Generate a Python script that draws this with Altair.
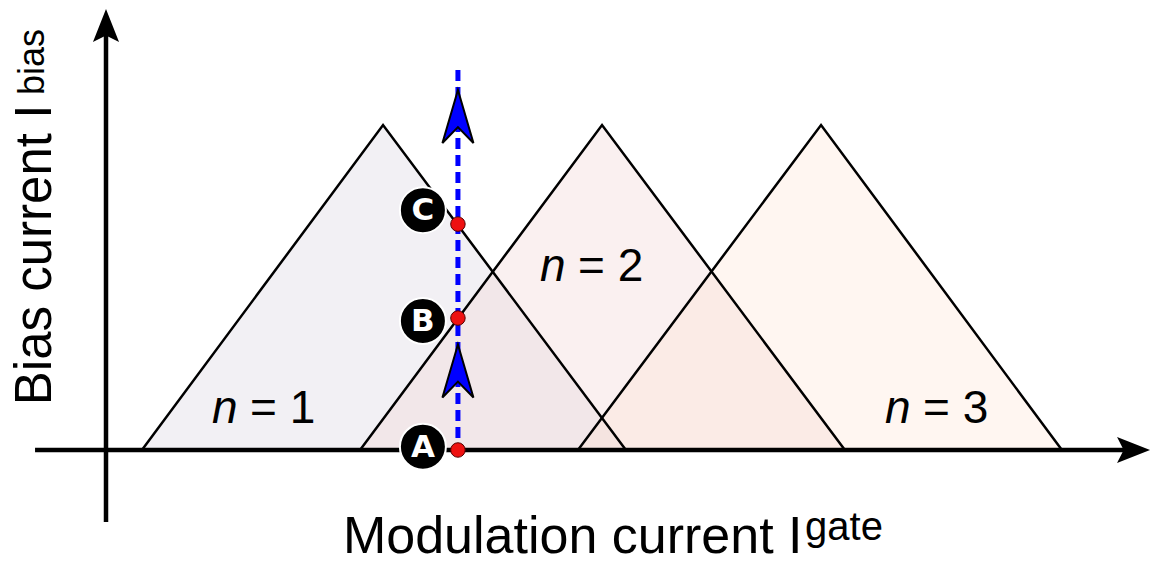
import altair as alt
import pandas as pd

# ---- data ----
# stability regions n = 1, 2, 3 : gate current at left foot, peak, right foot
tri_n = [1, 2, 3]
tri_left = [0.164, 1.160, 2.155]
tri_peak = [1.265, 2.265, 3.265]
tri_right = [2.374, 3.374, 4.365]
tri_height = [1.0, 1.0, 1.0]
tri_fill = ["#f2f0f4", "rgb(242,216,216)", "rgb(255,220,200)"]
tri_opacity = [1.0, 0.385, 0.25]

# bias sweep at a fixed gate current
sweep_gate = 1.607
sweep_top = 1.169
point_names = ["A", "B", "C"]
point_bias = [0.0, 0.406, 0.695]
label_gate = 1.447
label_bias = [0.01, 0.397, 0.738]
arrow_bias = [1.026, 0.243]

# region labels
region_eq = ["= 1", "= 2", "= 3"]
region_x = [0.484, 1.982, 3.557]
region_y = [0.083, 0.52, 0.083]

# axes
x_axis_from, x_axis_to = -0.324, 4.692
y_axis_from, y_axis_to = -0.2215, 1.306

W, H = 1143, 547
xs = alt.Scale(domain=[-0.4475, 4.7717], nice=False, zero=False)
ys = alt.Scale(domain=[-0.3231, 1.36], nice=False, zero=False)


def X(f="x"):
    return alt.X(f"{f}:Q", scale=xs, axis=None)


def Y(f="y"):
    return alt.Y(f"{f}:Q", scale=ys, axis=None)


layers = []

# triangle fills
for i in range(3):
    d = pd.DataFrame({
        "x": [tri_left[i], tri_peak[i], tri_right[i]],
        "y": [0.0, tri_height[i], 0.0],
        "y0": [0.0, 0.0, 0.0],
    })
    layers.append(
        alt.Chart(d).mark_area(color=tri_fill[i], opacity=tri_opacity[i], interpolate="linear")
        .encode(x=X(), y=Y(), y2=alt.Y2("y0:Q"))
    )

# triangle outlines
rows = []
for i in range(3):
    rows += [
        {"tri": tri_n[i], "x": tri_left[i], "y": 0.0, "o": 0},
        {"tri": tri_n[i], "x": tri_peak[i], "y": tri_height[i], "o": 1},
        {"tri": tri_n[i], "x": tri_right[i], "y": 0.0, "o": 2},
    ]
layers.append(
    alt.Chart(pd.DataFrame(rows)).mark_line(color="black", strokeWidth=2.5, strokeJoin="miter")
    .encode(x=X(), y=Y(), detail="tri:N", order="o:Q")
)

# axes lines
layers.append(
    alt.Chart(pd.DataFrame({"x": [x_axis_from], "x2": [x_axis_to], "y": [0.0]}))
    .mark_rule(color="black", strokeWidth=4.5)
    .encode(x=X(), x2=alt.X2("x2:Q"), y=Y())
)
layers.append(
    alt.Chart(pd.DataFrame({"x": [0.0], "y": [y_axis_from], "y2": [y_axis_to]}))
    .mark_rule(color="black", strokeWidth=4.5)
    .encode(x=X(), y=Y(), y2=alt.Y2("y2:Q"))
)
arrow_path = "M0,-1L0.79,1L0,0.6L-0.79,1Z"
layers.append(
    alt.Chart(pd.DataFrame({"x": [x_axis_to], "y": [0.0]}))
    .mark_point(shape=arrow_path, filled=True, color="black", opacity=1, size=1089, angle=90)
    .encode(x=X(), y=Y())
)
layers.append(
    alt.Chart(pd.DataFrame({"x": [0.0], "y": [y_axis_to]}))
    .mark_point(shape=arrow_path, filled=True, color="black", opacity=1, size=1089)
    .encode(x=X(), y=Y())
)

# dashed sweep line
layers.append(
    alt.Chart(pd.DataFrame({"x": [sweep_gate], "y": [sweep_top], "y2": [0.0]}))
    .mark_rule(color="#0000ff", strokeWidth=5, strokeDash=[11, 6])
    .encode(x=X(), y=Y(), y2=alt.Y2("y2:Q"))
)

# blue arrowheads
blue_path = "M0,-1L0.585,1L0,0.4L-0.585,1Z"
layers.append(
    alt.Chart(pd.DataFrame({"x": [sweep_gate] * len(arrow_bias), "y": arrow_bias}))
    .mark_point(shape=blue_path, filled=True, fill="#0000ff", stroke="black", strokeWidth=2,
                opacity=1, size=2809)
    .encode(x=X(), y=Y())
)

# red points
layers.append(
    alt.Chart(pd.DataFrame({"x": [sweep_gate] * 3, "y": point_bias}))
    .mark_point(shape="circle", filled=True, fill="#ee1111", stroke="#550000", strokeWidth=1,
                opacity=1, size=210)
    .encode(x=X(), y=Y())
)

# label badges
lab = pd.DataFrame({"x": [label_gate] * 3, "y": label_bias, "t": point_names})
layers.append(
    alt.Chart(lab).mark_point(shape="circle", filled=True, fill="black", stroke="white",
                              strokeWidth=2, opacity=1, size=2116)
    .encode(x=X(), y=Y())
)
layers.append(
    alt.Chart(lab).mark_text(font="DejaVu Sans", fontWeight="bold", fontSize=31, color="white",
                             align="center", baseline="middle", dy=1)
    .encode(x=X(), y=Y(), text="t:N")
)

# region labels "n = k"
reg = pd.DataFrame({"x": region_x, "y": region_y, "eq": region_eq, "n": ["n"] * 3})
layers.append(
    alt.Chart(reg).mark_text(font="Liberation Sans", fontStyle="italic", fontSize=46,
                             align="left", baseline="alphabetic", color="black")
    .encode(x=X(), y=Y(), text="n:N")
)
layers.append(
    alt.Chart(reg).mark_text(font="Liberation Sans", fontSize=46, align="left",
                             baseline="alphabetic", dx=38, color="black")
    .encode(x=X(), y=Y(), text="eq:N")
)

# axis titles
layers.append(
    alt.Chart(pd.DataFrame({"x": [1.082], "y": [-0.317], "t": ["Modulation current I"]}))
    .mark_text(font="Liberation Sans", fontSize=52, align="left", baseline="alphabetic", color="black")
    .encode(x=X(), y=Y(), text="t:N")
)
layers.append(
    alt.Chart(pd.DataFrame({"x": [3.192], "y": [-0.278], "t": ["gate"]}))
    .mark_text(font="Liberation Sans", fontSize=40, align="left", baseline="alphabetic", color="black")
    .encode(x=X(), y=Y(), text="t:N")
)
layers.append(
    alt.Chart(pd.DataFrame({"x": [-0.2511], "y": [0.138], "t": ["Bias current I"]}))
    .mark_text(font="Liberation Sans", fontSize=51, align="left", baseline="alphabetic",
               angle=270, color="black")
    .encode(x=X(), y=Y(), text="t:N")
)
layers.append(
    alt.Chart(pd.DataFrame({"x": [-0.283], "y": [1.092], "t": ["bias"]}))
    .mark_text(font="Liberation Sans", fontSize=36, align="left", baseline="alphabetic",
               angle=270, color="black")
    .encode(x=X(), y=Y(), text="t:N")
)

chart = alt.layer(*layers).properties(
    width=W, height=H, padding=0,
    autosize=alt.AutoSizeParams(type="none"),
    background="white",
).configure_view(stroke=None)

chart.save("out.html", embed_options={"renderer": "svg", "actions": False})
